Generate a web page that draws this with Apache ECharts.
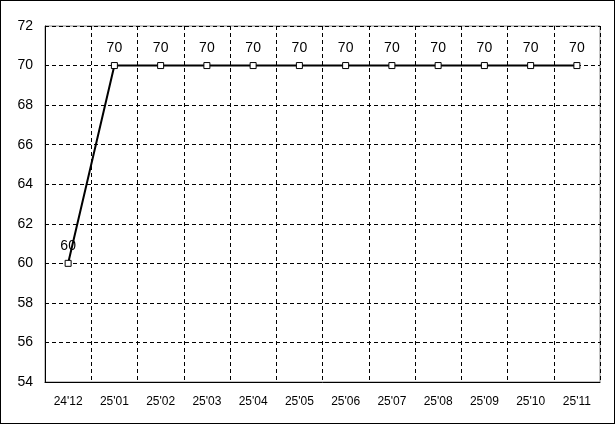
<!DOCTYPE html>
<html><head><meta charset="utf-8">
<script src="https://cdn.jsdelivr.net/npm/echarts@6/dist/echarts.min.js"></script>
<style>html,body{margin:0;padding:0;background:#fff}#c{width:613px;height:422px;border:1px solid #000}</style>
</head><body><div id="c"></div>
<script>
const categories = ["24'12","25'01","25'02","25'03","25'04","25'05","25'06","25'07","25'08","25'09","25'10","25'11"];
const values = [60,70,70,70,70,70,70,70,70,70,70,70];
const yTicks = {min:54, max:72, interval:2};
const chart = echarts.init(document.getElementById('c'), null, {renderer:'canvas'});
const font = "'Liberation Sans', Arial, sans-serif";
chart.setOption({
  animation:false,
  grid:{left:44, top:25, right:14, bottom:41, show:true, borderColor:'#888', borderWidth:1, backgroundColor:'#fff'},
  xAxis:{type:'category', data:categories, boundaryGap:true,
    axisLine:{lineStyle:{color:'#000', width:1}}, axisTick:{show:false},
    axisLabel:{color:'#000', fontSize:12, fontFamily:font, margin:14},
    splitLine:{show:true, lineStyle:{color:'#000', type:[4,3], width:1}}},
  yAxis:{type:'value', min:yTicks.min, max:yTicks.max, interval:yTicks.interval,
    axisLine:{show:true, lineStyle:{color:'#000', width:1}}, axisTick:{show:false},
    axisLabel:{color:'#000', fontSize:14, fontFamily:font, margin:12},
    splitLine:{show:true, lineStyle:{color:'#000', type:[4,3], width:1}}},
  series:[{type:'line', data:values, symbol:'rect', symbolSize:6,
    itemStyle:{color:'#fff', borderColor:'#000', borderWidth:1},
    lineStyle:{color:'#000', width:2},
    label:{show:true, position:'top', distance:7, color:'#000', fontSize:14, fontFamily:font}}]
});
</script></body></html>
